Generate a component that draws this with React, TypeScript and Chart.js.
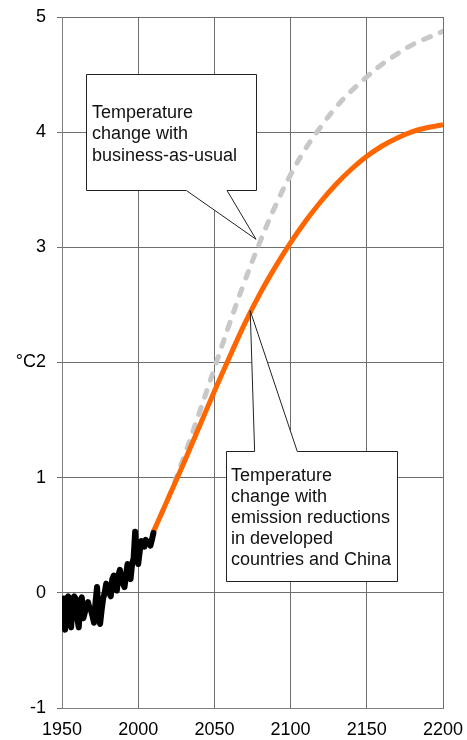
import React, { useEffect, useRef } from 'react';
import { Chart, registerables } from 'chart.js';

Chart.register(...registerables);

// ---- data ----
const histStartYear = 1950;
const histValues = [
  -0.25, -0.05, -0.32, -0.05, -0.03, -0.22, -0.3, -0.05, -0.03, -0.05,
  -0.22, -0.3, -0.08, -0.04, -0.22, -0.17, -0.1, -0.08, -0.13, -0.15,
  -0.2, -0.26, -0.08, 0.05, -0.2, -0.27, -0.15, -0.05, 0.0, 0.08,
  0.05, 0.0, -0.03, 0.12, 0.15, 0.03, 0.02, 0.15, 0.2, 0.12,
  0.08, 0.05, 0.15, 0.25, 0.15, 0.12, 0.25, 0.3, 0.53, 0.3,
  0.25, 0.36, 0.45, 0.44, 0.4, 0.46, 0.44, 0.43, 0.41, 0.46,
  0.52,
];

const projYears = [
  2010, 2020, 2030, 2040, 2050, 2060, 2070, 2080, 2090, 2100,
  2110, 2120, 2130, 2140, 2150, 2160, 2170, 2180, 2190, 2200,
];
const reductionValues = [
  0.53, 0.83, 1.13, 1.44, 1.75, 2.05, 2.34, 2.6, 2.83, 3.04,
  3.23, 3.4, 3.55, 3.68, 3.79, 3.88, 3.95, 4.005, 4.04, 4.065,
];
const bauValues = [
  0.53, 0.83, 1.18, 1.56, 1.95, 2.34, 2.71, 3.05, 3.36, 3.63,
  3.86, 4.05, 4.22, 4.36, 4.48, 4.59, 4.68, 4.76, 4.82, 4.875,
];

const xMin = 1950;
const xMax = 2200;
const xStep = 50;
const yMin = -1;
const yMax = 5;
const yStep = 1;
const yUnitTickValue = 2;
const yUnitLabel = '°C';

const bauLabel = ['Temperature', 'change with', 'business-as-usual'];
const reductionLabel = [
  'Temperature',
  'change with',
  'emission reductions',
  'in developed',
  'countries and China',
];

// ---- annotation layout (data coordinates) ----
const callouts = [
  {
    lines: bauLabel,
    box: { x1: 1966, x2: 2077.3, yTop: 4.505, yBottom: 3.5 },
    base: [2031.6, 2058.3],
    tip: { x: 2077.3, y: 3.07 },
    side: 'bottom',
    firstBaseline: 43.4,
    lineHeight: 21.3,
    inset: 5.5,
  },
  {
    lines: reductionLabel,
    box: { x1: 2057.6, x2: 2170, yTop: 1.235, yBottom: 0.107 },
    base: [2076.4, 2104.4],
    tip: { x: 2073.5, y: 2.45 },
    side: 'top',
    firstBaseline: 29,
    lineHeight: 21.1,
    inset: 4.5,
  },
];

const FONT = '"Liberation Sans", Arial, Helvetica, sans-serif';

const calloutPlugin = {
  id: 'callouts',
  afterDatasetsDraw(chart: any) {
    const ctx = chart.ctx as CanvasRenderingContext2D;
    const xs = chart.scales.x;
    const ys = chart.scales.y;
    const r = (v: number) => Math.round(v) + 0.5;
    callouts.forEach((c) => {
      const L = r(xs.getPixelForValue(c.box.x1));
      const R = r(xs.getPixelForValue(c.box.x2));
      const T = r(ys.getPixelForValue(c.box.yTop));
      const B = r(ys.getPixelForValue(c.box.yBottom));
      const b1 = xs.getPixelForValue(c.base[0]);
      const b2 = xs.getPixelForValue(c.base[1]);
      const tx = xs.getPixelForValue(c.tip.x);
      const ty = ys.getPixelForValue(c.tip.y);
      ctx.save();
      ctx.beginPath();
      if (c.side === 'bottom') {
        ctx.moveTo(L, T);
        ctx.lineTo(R, T);
        ctx.lineTo(R, B);
        ctx.lineTo(b2, B);
        ctx.lineTo(tx, ty);
        ctx.lineTo(b1, B);
        ctx.lineTo(L, B);
      } else {
        ctx.moveTo(L, T);
        ctx.lineTo(b1, T);
        ctx.lineTo(tx, ty);
        ctx.lineTo(b2, T);
        ctx.lineTo(R, T);
        ctx.lineTo(R, B);
        ctx.lineTo(L, B);
      }
      ctx.closePath();
      ctx.fillStyle = '#ffffff';
      ctx.fill();
      ctx.lineWidth = 1;
      ctx.strokeStyle = '#222222';
      ctx.lineJoin = 'miter';
      ctx.stroke();
      ctx.fillStyle = '#111111';
      ctx.font = `18px ${FONT}`;
      ctx.textAlign = 'left';
      ctx.textBaseline = 'alphabetic';
      c.lines.forEach((line, i) => {
        ctx.fillText(line, L + c.inset, T + c.firstBaseline + i * c.lineHeight);
      });
      ctx.restore();
    });
  },
};

export default function App() {
  const canvasRef = useRef<HTMLCanvasElement | null>(null);

  useEffect(() => {
    if (!canvasRef.current) return;
    const histData = histValues.map((v, i) => ({ x: histStartYear + i, y: v }));
    const redData = projYears.map((yr, i) => ({ x: yr, y: reductionValues[i] }));
    const bauData = projYears.map((yr, i) => ({ x: yr, y: bauValues[i] }));

    const chart = new Chart(canvasRef.current, {
      type: 'line',
      data: {
        datasets: [
          {
            label: 'Observed',
            data: histData,
            borderColor: '#000000',
            borderWidth: 6,
            borderJoinStyle: 'round',
            borderCapStyle: 'round',
            pointRadius: 0,
            tension: 0,
            order: 0,
          },
          {
            label: 'Emission reductions',
            data: redData,
            borderColor: '#ff6600',
            borderWidth: 5,
            pointRadius: 0,
            tension: 0.4,
            order: 1,
          },
          {
            label: 'Business as usual',
            data: bauData,
            borderColor: '#c8c8c8',
            borderWidth: 5,
            borderDash: [7, 11],
            borderCapStyle: 'round',
            pointRadius: 0,
            tension: 0.4,
            order: 2,
          },
        ],
      },
      options: {
        animation: false,
        responsive: false,
        layout: { padding: { left: 0, top: 17, right: 24, bottom: 0 } },
        plugins: {
          legend: { display: false },
          tooltip: { enabled: false },
        },
        scales: {
          x: {
            type: 'linear',
            min: xMin,
            max: xMax,
            afterFit: (s: any) => {
              s.height = 32;
              s.paddingLeft = 0;
              s.paddingRight = 0;
            },
            ticks: {
              stepSize: xStep,
              padding: 11,
              color: '#000000',
              font: { family: FONT, size: 18 },
              callback: (v: any) => String(v),
              maxRotation: 0,
            },
            grid: { color: '#6e6e6e', lineWidth: 1, drawTicks: false },
            border: { color: '#808080', width: 1 },
          },
          y: {
            type: 'linear',
            min: yMin,
            max: yMax,
            afterFit: (s: any) => {
              s.width = 62;
              s.paddingTop = 0;
              s.paddingBottom = 0;
            },
            ticks: {
              stepSize: yStep,
              padding: 11,
              color: '#000000',
              font: { family: FONT, size: 18 },
              callback: (v: any) =>
                v === yUnitTickValue ? `${yUnitLabel}${v}` : String(v),
            },
            grid: { color: '#6e6e6e', lineWidth: 1, drawTicks: true, tickLength: 5 },
            border: { color: '#808080', width: 1 },
          },
        },
      },
      plugins: [calloutPlugin],
    } as any);

    return () => chart.destroy();
  }, []);

  return (
    <div style={{ position: 'absolute', left: 0, top: 0, width: 467, height: 740, background: '#fff' }}>
      <canvas ref={canvasRef} width={467} height={740} style={{ display: 'block' }} />
    </div>
  );
}
